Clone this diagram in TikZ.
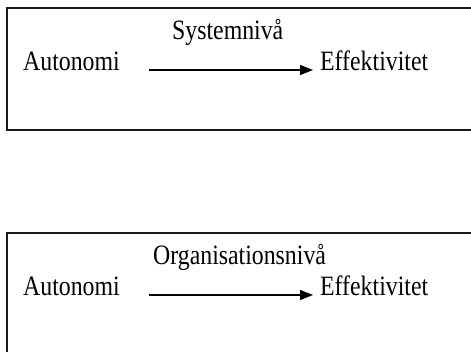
\documentclass[tikz,border=0pt]{standalone}
\usepackage{fontspec}
\usetikzlibrary{arrows.meta}
\newfontfamily\cf[FakeStretch=0.85]{Liberation Serif}
\begin{document}
\begin{tikzpicture}[x=1pt,y=-1pt,
  lbl/.style={anchor=base west,inner sep=0pt,font=\cf\fontsize{28}{31}\selectfont},
  frame/.style={draw=black!90,line width=2pt},
  conn/.style={line width=1.4pt,-{Triangle[length=13pt,width=10pt]}}]
\useasboundingbox (0,0) rectangle (471,352);
\clip (0,0) rectangle (471,352);
\fill[white] (0,0) rectangle (471,352);
% top box
\draw[frame] (6.5,8.5) rectangle (490,130.5);
\node[lbl] (s) at (172,40) {Systemnivå};
\node[lbl] (a1) at (23,71) {Autonomi};
\node[lbl] (e1) at (320,71) {Effektivitet};
\coordinate (p1) at (149,70);
\coordinate (q1) at (313,70);
\draw[conn] (p1) -- (q1);
% bottom box
\draw[frame] (6.5,233.5) rectangle (490,370);
\node[lbl] (o) at (153,265) {Organisationsnivå};
\node[lbl] (a2) at (23,296) {Autonomi};
\node[lbl] (e2) at (320,296) {Effektivitet};
\coordinate (p2) at (149,295);
\coordinate (q2) at (313,295);
\draw[conn] (p2) -- (q2);
\end{tikzpicture}
\end{document}
